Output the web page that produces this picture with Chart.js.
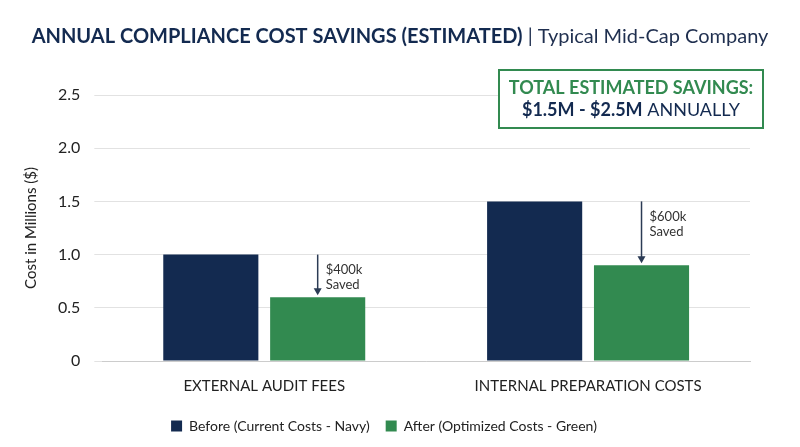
<!DOCTYPE html>
<html><head><meta charset="utf-8">
<script src="https://cdn.jsdelivr.net/npm/chart.js@4"></script>
<style>html,body{margin:0;padding:0;background:#fff}#wrap{width:800px;height:447px}</style>
</head><body><div id="wrap"><canvas id="c"></canvas></div>
<script>
const categories = ["EXTERNAL AUDIT FEES", "INTERNAL PREPARATION COSTS"];
const beforeValues = [1.0, 1.5];
const afterValues = [0.6, 0.9];
const savedLabels = [["$400k","Saved"], ["$600k","Saved"]];
const seriesNames = ["Before (Current Costs - Navy)", "After (Optimized Costs - Green)"];
const NAVY = "#132a50", GREEN = "#328a50", FONT = "Lato, 'Open Sans', sans-serif";

const overlay = {
  id: "overlay",
  afterDraw(chart) {
    const ctx = chart.ctx, y = chart.scales.y;
    ctx.save();
    ctx.textBaseline = "middle";
    ctx.font = "bold 20px " + FONT;
    const t1 = "ANNUAL COMPLIANCE COST SAVINGS (ESTIMATED)";
    const t2 = " | Typical Mid-Cap Company";
    const w1 = ctx.measureText(t1).width;
    ctx.font = "20px " + FONT;
    const w2 = ctx.measureText(t2).width;
    let x0 = 400 - (w1 + w2) / 2;
    ctx.fillStyle = NAVY; ctx.font = "bold 20px " + FONT; ctx.textAlign = "left";
    ctx.fillText(t1, x0, 37);
    ctx.fillStyle = "#1f2f4f"; ctx.font = "20px " + FONT;
    ctx.fillText(t2, x0 + w1, 37);
    ctx.fillStyle = "#fff"; ctx.fillRect(499, 70, 264, 58);
    ctx.strokeStyle = GREEN; ctx.lineWidth = 2; ctx.strokeRect(499, 70, 264, 58);
    ctx.textAlign = "center";
    ctx.fillStyle = GREEN; ctx.font = "bold 18px " + FONT;
    ctx.fillText("TOTAL ESTIMATED SAVINGS:", 631, 88);
    const a = "$1.5M - $2.5M", b = " ANNUALLY";
    const wa = ctx.measureText(a).width;
    ctx.font = "18px " + FONT; const wb = ctx.measureText(b).width;
    let xs = 631 - (wa + wb) / 2; ctx.textAlign = "left";
    ctx.fillStyle = NAVY; ctx.font = "bold 18px " + FONT; ctx.fillText(a, xs, 110);
    ctx.font = "18px " + FONT; ctx.fillText(b, xs + wa, 110);
    const meta = chart.getDatasetMeta(1);
    meta.data.forEach((bar, i) => {
      const x = bar.x, yTop = y.getPixelForValue(beforeValues[i]), yEnd = y.getPixelForValue(afterValues[i]) - 2;
      ctx.strokeStyle = "#2b3b55"; ctx.fillStyle = "#2b3b55"; ctx.lineWidth = 1.5;
      ctx.beginPath(); ctx.moveTo(x, yTop); ctx.lineTo(x, yEnd - 6); ctx.stroke();
      ctx.beginPath(); ctx.moveTo(x - 4, yEnd - 7); ctx.lineTo(x + 4, yEnd - 7); ctx.lineTo(x, yEnd); ctx.closePath(); ctx.fill();
      ctx.fillStyle = "#333"; ctx.font = "13px " + FONT; ctx.textAlign = "left";
      const mid = yTop + 15;
      ctx.fillText(savedLabels[i][0], x + 8, mid);
      ctx.fillText(savedLabels[i][1], x + 8, mid + 15);
    });
    ctx.restore();
  }
};

new Chart(document.getElementById("c"), {
  type: "bar",
  data: {
    labels: categories,
    datasets: [
      { label: seriesNames[0], data: beforeValues, backgroundColor: NAVY },
      { label: seriesNames[1], data: afterValues, backgroundColor: GREEN }
    ]
  },
  options: {
    responsive: true, maintainAspectRatio: false, animation: false,
    layout: { padding: { top: 95, right: 50, left: 18, bottom: 4 } },
    datasets: { bar: { categoryPercentage: 0.66, barPercentage: 0.89 } },
    scales: {
      x: { grid: { display: false }, border: { color: "#ccc" },
           ticks: { color: "#222", font: { family: FONT, size: 15 }, padding: 8 } },
      y: { min: 0, max: 2.5, border: { display: false },
           grid: { color: "#e2e2e2" },
           ticks: { stepSize: 0.5, color: "#222", font: { family: FONT, size: 16 }, padding: 14,
                    callback: v => v === 0 ? "0" : v.toFixed(1) },
           title: { display: true, text: "Cost in Millions ($)", color: "#222", font: { family: FONT, size: 15 } } }
    },
    plugins: {
      legend: { position: "bottom", labels: { boxWidth: 11, boxHeight: 11, padding: 16, color: "#222", font: { family: FONT, size: 14 } } },
      tooltip: { enabled: false }
    }
  },
  plugins: [overlay]
});
</script></body></html>
